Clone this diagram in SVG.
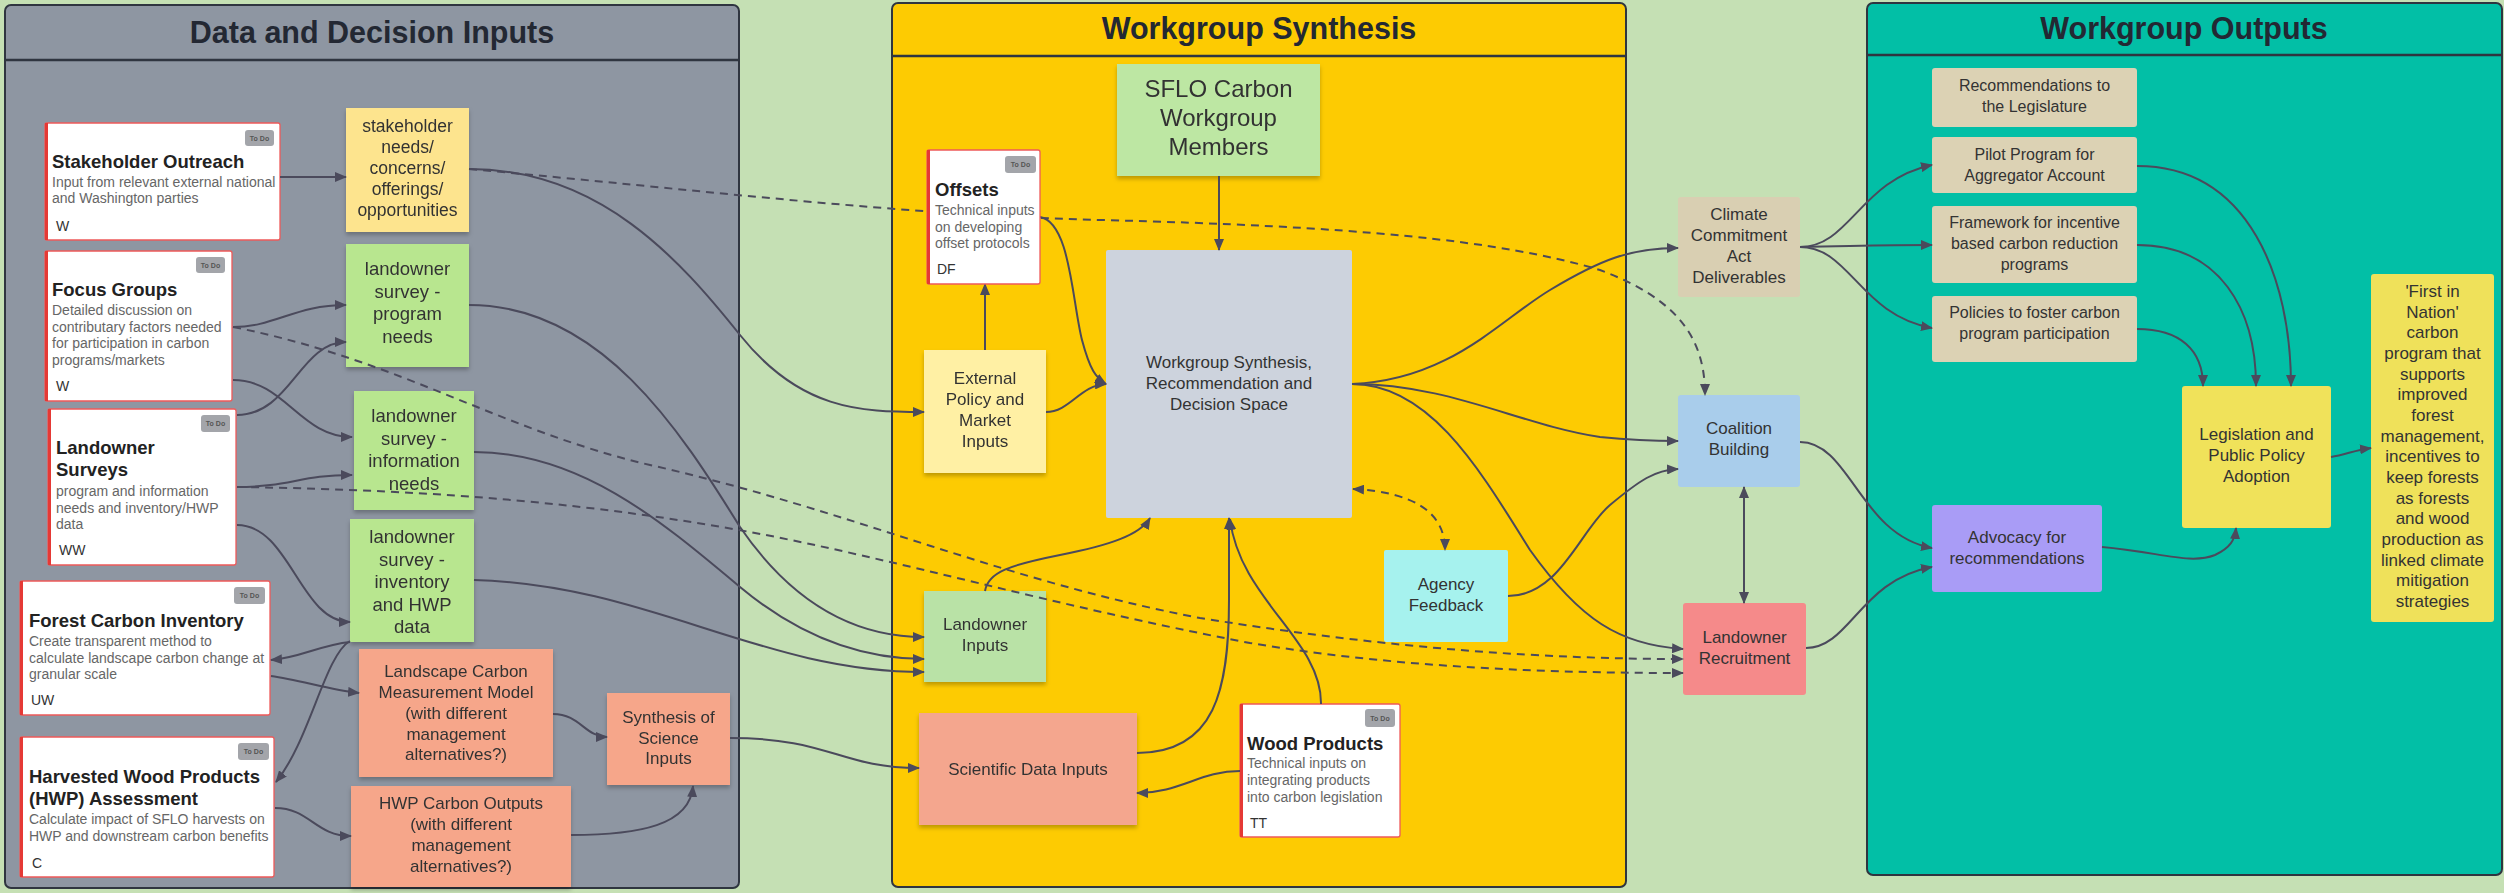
<svg xmlns="http://www.w3.org/2000/svg" width="2504" height="893" viewBox="0 0 2504 893">
<defs>
<marker id="ah" viewBox="0 0 12 10" refX="11" refY="5" markerWidth="12" markerHeight="10" markerUnits="userSpaceOnUse" orient="auto-start-reverse"><path d="M0,0 L12,5 L0,10 z" fill="#4b4a5c"/></marker>
<filter id="sh" x="-10%" y="-10%" width="120%" height="130%"><feDropShadow dx="0" dy="3" stdDeviation="2" flood-color="#000" flood-opacity="0.25"/></filter>
<style>
text{font-family:"Liberation Sans",Arial,sans-serif}
.ctitle{font-size:30.5px;font-weight:bold;fill:#232833;text-anchor:middle}
.cont{stroke:#2f3540;stroke-width:2}
.hl{stroke:#2f3540;stroke-width:2.5}
.n{font-size:17px;fill:#333;text-anchor:middle}
.n18{font-size:18.5px;fill:#333;text-anchor:middle}
.card{fill:#fff;stroke:#ee5a5a;stroke-width:1.3}
.bar{fill:#e53935}
.badge{fill:#a3a5aa}
.bt{font-size:7px;font-weight:bold;fill:#555;text-anchor:middle}
.ct{font-size:18.5px;font-weight:bold;fill:#222}
.cd{font-size:14px;fill:#666}
.ci{font-size:14px;fill:#333}
.e{fill:none;stroke:#4b4a5c;stroke-width:2;marker-end:url(#ah)}
.d{fill:none;stroke:#4b4a5c;stroke-width:2;stroke-dasharray:8 6;marker-end:url(#ah)}
.b{marker-start:url(#ah)}
</style>
</defs>
<rect x="0" y="0" width="2504" height="893" fill="#c5e0b4"/>

<g id="container-inputs">
<rect x="5" y="5" width="734" height="883" rx="6" fill="#8e96a2" class="cont"/>
<line x1="5" y1="60" x2="739" y2="60" class="hl"/>
<text x="372" y="43" class="ctitle">Data and Decision Inputs</text>
</g>
<g id="container-synthesis">
<rect x="892" y="3" width="734" height="884" rx="6" fill="#fdcb02" class="cont"/>
<line x1="892" y1="56" x2="1626" y2="56" class="hl"/>
<text x="1259" y="39" class="ctitle">Workgroup Synthesis</text>
</g>
<g id="container-outputs">
<rect x="1867" y="3" width="635" height="872" rx="6" fill="#02bfa6" class="cont"/>
<line x1="1867" y1="55" x2="2502" y2="55" class="hl"/>
<text x="2184" y="39" class="ctitle">Workgroup Outputs</text>
</g>

<g id="stakeholder-outreach">
<rect x="45" y="123" width="235" height="117" rx="2" class="card"/>
<rect x="45" y="123" width="3" height="117" class="bar"/>
<rect x="245" y="130" width="29" height="16" rx="3" class="badge"/>
<text x="259.5" y="140.5" class="bt">To Do</text>
<text x="52" y="168" class="ct">Stakeholder Outreach</text>
<text x="52" y="187" class="cd">Input from relevant external national</text>
<text x="52" y="203" class="cd">and Washington parties</text>
<text x="56" y="231" class="ci">W</text>
</g>
<g id="focus-groups">
<rect x="45" y="251" width="187" height="150" rx="2" class="card"/>
<rect x="45" y="251" width="3" height="150" class="bar"/>
<rect x="196" y="257" width="29" height="16" rx="3" class="badge"/>
<text x="210.5" y="267.5" class="bt">To Do</text>
<text x="52" y="296" class="ct">Focus Groups</text>
<text x="52" y="315" class="cd">Detailed discussion on</text>
<text x="52" y="332" class="cd">contributary factors needed</text>
<text x="52" y="348" class="cd">for participation in carbon</text>
<text x="52" y="365" class="cd">programs/markets</text>
<text x="56" y="391" class="ci">W</text>
</g>
<g id="landowner-surveys">
<rect x="48" y="409" width="188" height="156" rx="2" class="card"/>
<rect x="48" y="409" width="3" height="156" class="bar"/>
<rect x="201" y="415" width="29" height="17" rx="3" class="badge"/>
<text x="215.5" y="426" class="bt">To Do</text>
<text x="56" y="454" class="ct">Landowner</text>
<text x="56" y="476" class="ct">Surveys</text>
<text x="56" y="496" class="cd">program and information</text>
<text x="56" y="513" class="cd">needs and inventory/HWP</text>
<text x="56" y="529" class="cd">data</text>
<text x="59" y="555" class="ci">WW</text>
</g>
<g id="forest-carbon-inventory">
<rect x="20" y="581" width="250" height="134" rx="2" class="card"/>
<rect x="20" y="581" width="3" height="134" class="bar"/>
<rect x="234" y="587" width="31" height="17" rx="3" class="badge"/>
<text x="249.5" y="598" class="bt">To Do</text>
<text x="29" y="627" class="ct">Forest Carbon Inventory</text>
<text x="29" y="646" class="cd">Create transparent method to</text>
<text x="29" y="663" class="cd">calculate landscape carbon change at</text>
<text x="29" y="679" class="cd">granular scale</text>
<text x="31" y="705" class="ci">UW</text>
</g>
<g id="hwp-assessment">
<rect x="20" y="737" width="254" height="140" rx="2" class="card"/>
<rect x="20" y="737" width="3" height="140" class="bar"/>
<rect x="238" y="743" width="31" height="17" rx="3" class="badge"/>
<text x="253.5" y="754" class="bt">To Do</text>
<text x="29" y="783" class="ct">Harvested Wood Products</text>
<text x="29" y="805" class="ct">(HWP) Assessment</text>
<text x="29" y="824" class="cd">Calculate impact of SFLO harvests on</text>
<text x="29" y="841" class="cd">HWP and downstream carbon benefits</text>
<text x="32" y="868" class="ci">C</text>
</g>

<g id="stakeholder-needs" filter="url(#sh)">
<rect x="346" y="108" width="123" height="124" fill="#fde48e"/>
<text class="n" style="font-size:17.5px"><tspan x="407.5" y="132">stakeholder</tspan><tspan x="407.5" y="153">needs/</tspan><tspan x="407.5" y="174">concerns/</tspan><tspan x="407.5" y="195">offerings/</tspan><tspan x="407.5" y="216">opportunities</tspan></text>
</g>
<g id="survey-program-needs" filter="url(#sh)">
<rect x="346" y="244" width="123" height="123" fill="#b8e68f"/>
<text class="n18"><tspan x="407.5" y="275">landowner</tspan><tspan x="407.5" y="297.5">survey -</tspan><tspan x="407.5" y="320">program</tspan><tspan x="407.5" y="342.5">needs</tspan></text>
</g>
<g id="survey-information-needs" filter="url(#sh)">
<rect x="354" y="391" width="120" height="119" fill="#b8e68f"/>
<text class="n18"><tspan x="414" y="422">landowner</tspan><tspan x="414" y="444.5">survey -</tspan><tspan x="414" y="467">information</tspan><tspan x="414" y="489.5">needs</tspan></text>
</g>
<g id="survey-inventory" filter="url(#sh)">
<rect x="350" y="519" width="124" height="123" fill="#b8e68f"/>
<text class="n18"><tspan x="412" y="543">landowner</tspan><tspan x="412" y="565.5">survey -</tspan><tspan x="412" y="588">inventory</tspan><tspan x="412" y="610.5">and HWP</tspan><tspan x="412" y="633">data</tspan></text>
</g>
<g id="landscape-carbon-model" filter="url(#sh)">
<rect x="359" y="649" width="194" height="128" fill="#f6a68a"/>
<text class="n"><tspan x="456" y="677">Landscape Carbon</tspan><tspan x="456" y="698">Measurement Model</tspan><tspan x="456" y="719">(with different</tspan><tspan x="456" y="740">management</tspan><tspan x="456" y="760">alternatives?)</tspan></text>
</g>
<g id="hwp-carbon-outputs" filter="url(#sh)">
<rect x="351" y="786" width="220" height="101" fill="#f6a68a"/>
<text class="n"><tspan x="461" y="809">HWP Carbon Outputs</tspan><tspan x="461" y="830">(with different</tspan><tspan x="461" y="851">management</tspan><tspan x="461" y="872">alternatives?)</tspan></text>
</g>
<g id="synthesis-of-science" filter="url(#sh)">
<rect x="607" y="693" width="123" height="92" fill="#f6a68a"/>
<text class="n"><tspan x="668.5" y="723">Synthesis of</tspan><tspan x="668.5" y="744">Science</tspan><tspan x="668.5" y="764">Inputs</tspan></text>
</g>

<g id="sflo-members" filter="url(#sh)">
<rect x="1117" y="64" width="203" height="112" fill="#bde7a3"/>
<text class="n" style="font-size:24px"><tspan x="1218.5" y="97">SFLO Carbon</tspan><tspan x="1218.5" y="126">Workgroup</tspan><tspan x="1218.5" y="155">Members</tspan></text>
</g>
<g id="external-policy" filter="url(#sh)">
<rect x="924" y="350" width="122" height="123" fill="#fff0a4"/>
<text class="n"><tspan x="985" y="384">External</tspan><tspan x="985" y="405">Policy and</tspan><tspan x="985" y="426">Market</tspan><tspan x="985" y="447">Inputs</tspan></text>
</g>
<g id="synthesis-space">
<rect x="1106" y="250" width="246" height="268" rx="2" fill="#cdd3dd"/>
<text class="n"><tspan x="1229" y="368">Workgroup Synthesis,</tspan><tspan x="1229" y="389">Recommendation and</tspan><tspan x="1229" y="410">Decision Space</tspan></text>
</g>
<g id="landowner-inputs" filter="url(#sh)">
<rect x="924" y="591" width="122" height="91" fill="#b9e2a6"/>
<text class="n"><tspan x="985" y="630">Landowner</tspan><tspan x="985" y="651">Inputs</tspan></text>
</g>
<g id="scientific-data" filter="url(#sh)">
<rect x="919" y="713" width="218" height="112" fill="#f4a68e"/>
<text class="n" x="1028" y="775">Scientific Data Inputs</text>
</g>
<g id="agency-feedback">
<rect x="1384" y="550" width="124" height="92" rx="2" fill="#a6f2ee"/>
<text class="n"><tspan x="1446" y="590">Agency</tspan><tspan x="1446" y="611">Feedback</tspan></text>
</g>
<g id="wood-products">
<rect x="1240" y="704" width="160" height="133" rx="2" class="card"/>
<rect x="1240" y="704" width="3" height="133" class="bar"/>
<rect x="1365" y="709" width="30" height="18" rx="3" class="badge"/>
<text x="1380" y="720.5" class="bt">To Do</text>
<text x="1247" y="750" class="ct">Wood Products</text>
<text x="1247" y="768" class="cd">Technical inputs on</text>
<text x="1247" y="785" class="cd">integrating products</text>
<text x="1247" y="802" class="cd">into carbon legislation</text>
<text x="1250" y="828" class="ci">TT</text>
</g>

<g id="cca-deliverables">
<rect x="1678" y="197" width="122" height="100" rx="3" fill="#d9cfb2"/>
<text class="n"><tspan x="1739" y="220">Climate</tspan><tspan x="1739" y="241">Commitment</tspan><tspan x="1739" y="262">Act</tspan><tspan x="1739" y="283">Deliverables</tspan></text>
</g>
<g id="coalition-building">
<rect x="1678" y="395" width="122" height="92" rx="3" fill="#a9cdeb"/>
<text class="n"><tspan x="1739" y="434">Coalition</tspan><tspan x="1739" y="455">Building</tspan></text>
</g>
<g id="landowner-recruitment">
<rect x="1683" y="603" width="123" height="92" rx="3" fill="#f58a8a"/>
<text class="n"><tspan x="1744.5" y="643">Landowner</tspan><tspan x="1744.5" y="664">Recruitment</tspan></text>
</g>

<g id="recommendations-legislature">
<rect x="1932" y="68" width="205" height="59" rx="3" fill="#dcd2b4"/>
<text class="n" style="font-size:16px"><tspan x="2034.5" y="91">Recommendations to</tspan><tspan x="2034.5" y="112">the Legislature</tspan></text>
</g>
<g id="pilot-program">
<rect x="1932" y="137" width="205" height="56" rx="3" fill="#dcd2b4"/>
<text class="n" style="font-size:16px"><tspan x="2034.5" y="160">Pilot Program for</tspan><tspan x="2034.5" y="181">Aggregator Account</tspan></text>
</g>
<g id="framework-incentive">
<rect x="1932" y="206" width="205" height="77" rx="3" fill="#dcd2b4"/>
<text class="n" style="font-size:16px"><tspan x="2034.5" y="228">Framework for incentive</tspan><tspan x="2034.5" y="249">based carbon reduction</tspan><tspan x="2034.5" y="270">programs</tspan></text>
</g>
<g id="policies-foster">
<rect x="1932" y="296" width="205" height="66" rx="3" fill="#dcd2b4"/>
<text class="n" style="font-size:16px"><tspan x="2034.5" y="318">Policies to foster carbon</tspan><tspan x="2034.5" y="339">program participation</tspan></text>
</g>
<g id="legislation-adoption">
<rect x="2182" y="386" width="149" height="142" rx="3" fill="#f0e25a"/>
<text class="n"><tspan x="2256.5" y="440">Legislation and</tspan><tspan x="2256.5" y="461">Public Policy</tspan><tspan x="2256.5" y="482">Adoption</tspan></text>
</g>
<g id="first-in-nation">
<rect x="2371" y="274" width="123" height="348" rx="3" fill="#efe15a"/>
<text class="n"><tspan x="2432.5" y="297">'First in</tspan><tspan x="2432.5" y="318">Nation'</tspan><tspan x="2432.5" y="338">carbon</tspan><tspan x="2432.5" y="359">program that</tspan><tspan x="2432.5" y="380">supports</tspan><tspan x="2432.5" y="400">improved</tspan><tspan x="2432.5" y="421">forest</tspan><tspan x="2432.5" y="442">management,</tspan><tspan x="2432.5" y="462">incentives to</tspan><tspan x="2432.5" y="483">keep forests</tspan><tspan x="2432.5" y="504">as forests</tspan><tspan x="2432.5" y="524">and wood</tspan><tspan x="2432.5" y="545">production as</tspan><tspan x="2432.5" y="566">linked climate</tspan><tspan x="2432.5" y="586">mitigation</tspan><tspan x="2432.5" y="607">strategies</tspan></text>
</g>
<g id="advocacy">
<rect x="1932" y="505" width="170" height="87" rx="3" fill="#a99cf6"/>
<text class="n"><tspan x="2017" y="543">Advocacy for</tspan><tspan x="2017" y="564">recommendations</tspan></text>
</g>

<g id="connectors">
<path class="e" d="M280,177 L346,177"/>
<path class="e" d="M233,327 C275,327 295,305 346,305"/>
<path class="e" d="M237,415 C290,415 300,342 346,342"/>
<path class="e" d="M233,380 C285,380 300,437 352,437"/>
<path class="e" d="M237,487 C290,487 300,475 352,475"/>
<path class="e" d="M237,525 C290,525 300,622 350,622"/>
<path class="e" d="M350,642 C320,645 300,658 271,660"/>
<path class="e" d="M350,641 C325,655 310,740 276,782"/>
<path class="e" d="M271,676 C300,680 330,690 359,693"/>
<path class="e" d="M275,808 C310,808 315,836 351,836"/>
<path class="e" d="M553,714 C580,714 585,737 607,737"/>
<path class="e" d="M571,835 C640,835 690,825 693,786"/>
<path class="e" d="M469,169 C600,169 680,260 740,335 C800,410 860,412 924,412"/>
<path class="e" d="M469,305 C600,305 680,430 740,527 C790,600 850,637 924,637"/>
<path class="e" d="M474,452 C580,452 660,520 740,587 C800,637 860,659 924,659"/>
<path class="e" d="M474,580 C650,585 760,672 924,672"/>
<path class="e" d="M730,738 C830,738 840,768 919,768"/>
<path class="d" d="M469,169 C700,190 900,215 1100,220 C1350,226 1500,240 1600,270 C1680,300 1705,340 1705,395"/>
<path class="d" d="M233,327 C400,360 500,430 650,465 C850,510 1000,580 1200,618 C1400,650 1550,659 1683,659"/>
<path class="d" d="M237,487 C450,490 600,505 750,532 C900,560 1050,605 1250,643 C1400,668 1550,673 1683,673"/>
<path class="d b" d="M1353,489 C1410,492 1445,510 1445,550"/>
<path class="e" d="M1219,176 L1219,250"/>
<path class="e" d="M985,350 L985,284"/>
<path class="e" d="M1040,217 C1070,222 1072,300 1082,340 C1090,370 1096,378 1106,384"/>
<path class="e" d="M1046,412 C1070,412 1080,385 1106,384"/>
<path class="e" d="M985,591 C988,572 1010,565 1060,555 C1110,545 1140,535 1150,518"/>
<path class="e" d="M1137,753 C1215,753 1229,690 1229,600 L1229,518"/>
<path class="e" d="M1321,704 C1322,640 1240,600 1230,519"/>
<path class="e" d="M1240,771 C1200,771 1180,793 1137,793"/>
<path class="e" d="M1352,384 C1450,380 1500,320 1550,290 C1600,260 1630,248 1678,248"/>
<path class="e" d="M1352,384 C1450,384 1520,425 1600,437 C1640,441 1660,441 1678,441"/>
<path class="e" d="M1352,384 C1430,384 1480,470 1530,550 C1580,620 1620,645 1683,649"/>
<path class="e" d="M1508,596 C1560,596 1580,530 1610,505 C1640,480 1655,470 1678,469"/>
<path class="e b" d="M1744,487 L1744,603"/>
<path class="e" d="M1800,247 C1850,247 1860,180 1932,165"/>
<path class="e" d="M1800,247 C1860,246 1880,245 1932,245"/>
<path class="e" d="M1800,247 C1850,247 1860,315 1932,328"/>
<path class="e" d="M1800,442 C1850,442 1860,535 1932,548"/>
<path class="e" d="M1806,648 C1850,648 1860,580 1932,567"/>
<path class="e" d="M2102,547 C2160,552 2190,565 2215,555 C2230,548 2235,540 2236,528"/>
<path class="e" d="M2137,166 C2250,166 2291,280 2291,386"/>
<path class="e" d="M2137,245 C2220,245 2256,310 2256,386"/>
<path class="e" d="M2137,329 C2180,329 2203,350 2203,386"/>
<path class="e" d="M2331,457 C2345,455 2355,450 2371,448"/>
</g>

<g id="offsets">
<rect x="927" y="150" width="113" height="134" rx="2" class="card"/>
<rect x="927" y="150" width="3" height="134" class="bar"/>
<rect x="1005" y="156" width="31" height="17" rx="3" class="badge"/>
<text x="1020.5" y="167" class="bt">To Do</text>
<text x="935" y="196" class="ct">Offsets</text>
<text x="935" y="215" class="cd">Technical inputs</text>
<text x="935" y="232" class="cd">on developing</text>
<text x="935" y="248" class="cd">offset protocols</text>
<text x="937" y="274" class="ci">DF</text>
</g>
</svg>
